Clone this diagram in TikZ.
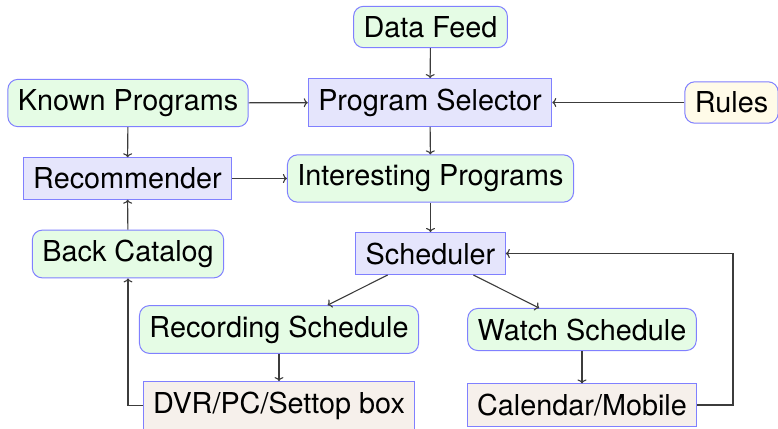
\documentclass[tikz,border=0pt]{standalone}
\usepackage{fontspec}
\setmainfont{TeX Gyre Heros}
\usetikzlibrary{arrows.meta}
\definecolor{gfill}{RGB}{229,252,229}
\definecolor{bfill}{RGB}{229,229,252}
\definecolor{yfill}{RGB}{255,251,232}
\definecolor{pfill}{RGB}{246,240,235}
\definecolor{bord}{RGB}{128,128,255}
\definecolor{conn}{RGB}{60,60,60}
\tikzset{
  base/.style={draw=bord, line width=1pt, inner sep=10pt, font=\fontsize{28.8}{34}\selectfont},
  roundbox/.style={base, rounded corners=10pt, fill=gfill},
  sqbox/.style={base, fill=bfill},
  rulebox/.style={base, rounded corners=10pt, fill=yfill},
  devbox/.style={base, fill=pfill},
  conn/.style={draw=conn, line width=1.1pt, -{To[length=4pt,width=9pt]}}
}
\begin{document}
\begin{tikzpicture}[x=1pt,y=-1pt]
\useasboundingbox[fill=white] (0,0) rectangle (778,428);
\node[roundbox] (df) at (430.5,27) {Data Feed};
\node[roundbox] (kp) at (128,103) {Known Programs};
\node[sqbox] (ps) at (430,102.5) {Program Selector};
\node[rulebox] (ru) at (731.5,102.5) {Rules};
\node[sqbox] (rc) at (127.5,178.5) {Recommender};
\node[roundbox] (ip) at (430.5,178.5) {Interesting Programs};
\node[roundbox] (bc) at (128,254) {Back Catalog};
\node[sqbox] (sc) at (430.5,253.5) {Scheduler};
\node[roundbox] (rs) at (279,329.5) {Recording Schedule};
\node[roundbox] (ws) at (582,329.5) {Watch Schedule};
\node[devbox] (dv) at (279,405.5) {DVR/PC/Settop box};
\node[devbox] (cm) at (582,405) {Calendar/Mobile};
\coordinate (rx) at (733,0);
\draw[conn] (df) -- (ps);
\draw[conn] (kp) -- (ps);
\draw[conn] (ru) -- (ps);
\draw[conn] (kp) -- (rc);
\draw[conn] (ps) -- (ip);
\draw[conn] (rc) -- (ip);
\draw[conn] (ip) -- (sc);
\draw[conn] (bc) -- (rc);
\draw[conn] (sc) -- (rs);
\draw[conn] (sc) -- (ws);
\draw[conn] (rs) -- (dv);
\draw[conn] (ws) -- (cm);
\draw[conn] (cm.east) -- (cm.east -| rx) |- (sc.east);
\draw[conn] (dv.west) -| (bc.south);
\end{tikzpicture}
\end{document}
